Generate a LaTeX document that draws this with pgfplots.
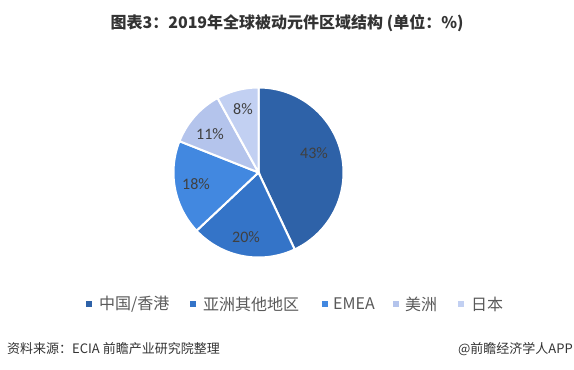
\documentclass[border=0pt]{standalone}
\usepackage{pgfplots}
\pgfplotsset{compat=1.18}
\usepackage{fontspec}
\setmainfont{Noto Sans CJK SC}
\newfontfamily\numfont{Carlito}
\definecolor{c1}{RGB}{46,98,168}
\definecolor{c2}{RGB}{52,116,200}
\definecolor{c3}{RGB}{66,136,224}
\definecolor{c4}{RGB}{180,196,236}
\definecolor{c5}{RGB}{194,208,242}
\definecolor{lbl}{RGB}{64,64,64}
\definecolor{leg}{RGB}{89,89,89}
\definecolor{ttl}{RGB}{51,51,51}
\begin{document}
\begin{tikzpicture}
% shares (%)
\def\vA{43}\def\vB{20}\def\vC{18}\def\vD{11}\def\vE{8}
\pgfmathsetmacro{\aA}{90}
\pgfmathsetmacro{\aB}{\aA-\vA*3.6}
\pgfmathsetmacro{\aC}{\aB-\vB*3.6}
\pgfmathsetmacro{\aD}{\aC-\vC*3.6}
\pgfmathsetmacro{\aE}{\aD-\vD*3.6}
\pgfmathsetmacro{\aF}{\aE-\vE*3.6}
\def\cx{258.5}\def\cy{197.5}\def\R{85}
\begin{axis}[width=574pt,height=370pt,scale only axis,
  xmin=0,xmax=574,ymin=0,ymax=370,hide axis,clip=false]
\addplot[fill=c1,draw=white,line width=2pt,domain=\aB:\aA,samples=80]
  ({\cx+\R*cos(x)},{\cy+\R*sin(x)}) -- (axis cs:\cx,\cy) -- cycle;
\addplot[fill=c2,draw=white,line width=2pt,domain=\aC:\aB,samples=40]
  ({\cx+\R*cos(x)},{\cy+\R*sin(x)}) -- (axis cs:\cx,\cy) -- cycle;
\addplot[fill=c3,draw=white,line width=2pt,domain=\aD:\aC,samples=40]
  ({\cx+\R*cos(x)},{\cy+\R*sin(x)}) -- (axis cs:\cx,\cy) -- cycle;
\addplot[fill=c4,draw=white,line width=2pt,domain=\aE:\aD,samples=30]
  ({\cx+\R*cos(x)},{\cy+\R*sin(x)}) -- (axis cs:\cx,\cy) -- cycle;
\addplot[fill=c5,draw=white,line width=2pt,domain=\aF:\aE,samples=30]
  ({\cx+\R*cos(x)},{\cy+\R*sin(x)}) -- (axis cs:\cx,\cy) -- cycle;
% value labels
\begin{scope}[every node/.style={font=\numfont\fontsize{16}{18}\selectfont,text=lbl}]
\node at (axis cs:314,217) {43\%};
\node at (axis cs:246,133) {20\%};
\node at (axis cs:196,186) {18\%};
\node at (axis cs:210,236) {11\%};
\node at (axis cs:243,261) {8\%};
\end{scope}
% title
\node[font=\bfseries\fontsize{16}{18}\selectfont,text=ttl] at (axis cs:287,347)
  {图表3：2019年全球被动元件区域结构 (单位：\%)};
% legend
\begin{scope}[every node/.style={font=\fontsize{16}{18}\selectfont,text=leg,anchor=west,inner sep=0pt}]
\fill[c1] (axis cs:86,63) rectangle (axis cs:92,69);
\node at (axis cs:99,66) {中国/香港};
\fill[c2] (axis cs:190,63) rectangle (axis cs:196,69);
\node at (axis cs:203,66) {亚洲其他地区};
\fill[c3] (axis cs:322,63) rectangle (axis cs:328,69);
\node at (axis cs:333,66) {EMEA};
\fill[c4] (axis cs:393,63) rectangle (axis cs:399,69);
\node at (axis cs:405,66) {美洲};
\fill[c5] (axis cs:458,63) rectangle (axis cs:464,69);
\node at (axis cs:471,66) {日本};
\end{scope}
% source
\node[font=\fontsize{13}{15}\selectfont,text=ttl,anchor=west,inner sep=0pt] at (axis cs:7,21)
  {资料来源：ECIA 前瞻产业研究院整理};
\node[font=\fontsize{13}{15}\selectfont,text=ttl,anchor=east,inner sep=0pt] at (axis cs:573,21)
  {@前瞻经济学人APP};
\end{axis}
\path[use as bounding box] (0,0) rectangle (574pt,370pt);
\end{tikzpicture}
\end{document}
